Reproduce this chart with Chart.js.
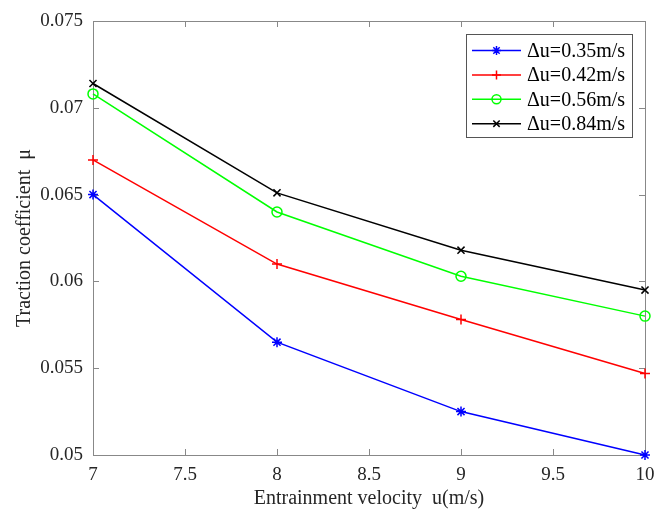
<!DOCTYPE html>
<html>
<head>
<meta charset="utf-8">
<script src="https://cdn.jsdelivr.net/npm/chart.js@4/dist/chart.umd.min.js"></script>
<style>
  html, body { margin: 0; padding: 0; background: #fff; }
  #wrap { width: 657px; height: 514px; }
</style>
</head>
<body>
<div id="wrap"><canvas id="myChart" width="657" height="514"></canvas></div>
<script>
// data
var velocity = [7, 8, 9, 10];
var du035 = [0.0650, 0.0565, 0.0525, 0.0500];
var du042 = [0.0670, 0.0610, 0.0578, 0.0547];
var du056 = [0.0708, 0.0640, 0.0603, 0.0580];
var du084 = [0.0714, 0.0651, 0.0618, 0.0595];
var seriesNames = ['\u0394u=0.35m/s', '\u0394u=0.42m/s', '\u0394u=0.56m/s', '\u0394u=0.84m/s'];
var xTicks = [7, 7.5, 8, 8.5, 9, 9.5, 10];
var yTicks = [0.05, 0.055, 0.06, 0.065, 0.07, 0.075];

var serif = "'Liberation Serif', 'Times New Roman', serif";
Chart.defaults.font.family = serif;
Chart.defaults.color = '#262626';

function pts(ys) {
  return ys.map(function (y, i) { return { x: velocity[i], y: y }; });
}

function makeSet(label, ys, color, style) {
  return {
    label: label,
    data: pts(ys),
    borderColor: color,
    backgroundColor: 'rgba(0,0,0,0)',
    pointBorderColor: color,
    pointBackgroundColor: 'rgba(0,0,0,0)',
    pointStyle: style,
    pointRadius: 5,
    pointBorderWidth: 1.5,
    borderWidth: 1.5,
    tension: 0,
    clip: false
  };
}

function fmt(v) { return String(+Number(v).toFixed(4)); }

// simple marker drawing for the legend
function marker(ctx, style, x, y, r, color) {
  ctx.save();
  ctx.strokeStyle = color;
  ctx.lineWidth = 1.5;
  ctx.beginPath();
  if (style === 'circle') {
    ctx.arc(x, y, r, 0, Math.PI * 2);
  } else {
    var angles = style === 'cross' ? [0, 90] : style === 'crossRot' ? [45, 135] : [0, 45, 90, 135];
    angles.forEach(function (a) {
      var rad = a * Math.PI / 180, dx = Math.cos(rad) * r, dy = Math.sin(rad) * r;
      ctx.moveTo(x - dx, y - dy);
      ctx.lineTo(x + dx, y + dy);
    });
  }
  ctx.stroke();
  ctx.restore();
}

// box around the plot with inward ticks on every side
var boxPlugin = {
  id: 'box',
  beforeDatasetsDraw: function (chart) {
    var ctx = chart.ctx, a = chart.chartArea;
    var xs = chart.scales.x, ys = chart.scales.y;
    var len = 6;
    ctx.save();
    ctx.strokeStyle = '#888';
    ctx.lineWidth = 1;
    ctx.strokeRect(Math.round(a.left) + 0.5, Math.round(a.top) + 0.5,
      Math.round(a.right - a.left), Math.round(a.bottom - a.top));
    ctx.beginPath();
    xTicks.forEach(function (t) {
      var px = Math.round(xs.getPixelForValue(t)) + 0.5;
      ctx.moveTo(px, a.bottom); ctx.lineTo(px, a.bottom - len);
      ctx.moveTo(px, a.top); ctx.lineTo(px, a.top + len);
    });
    yTicks.forEach(function (t) {
      var py = Math.round(ys.getPixelForValue(t)) + 0.5;
      ctx.moveTo(a.left, py); ctx.lineTo(a.left + len, py);
      ctx.moveTo(a.right, py); ctx.lineTo(a.right - len, py);
    });
    ctx.stroke();
    ctx.restore();
  }
};

// legend box in the upper right, matlab style
var legendPlugin = {
  id: 'boxLegend',
  afterDraw: function (chart) {
    var ctx = chart.ctx;
    var bx = 466, by = 34, bw = 166, bh = 103;
    var rowH = 24.4, firstY = 50.5;
    ctx.save();
    ctx.fillStyle = '#fff';
    ctx.fillRect(bx, by, bw, bh);
    ctx.strokeStyle = '#555';
    ctx.lineWidth = 1;
    ctx.strokeRect(bx + 0.5, by + 0.5, bw, bh);
    ctx.font = '20px ' + serif;
    ctx.textBaseline = 'middle';
    ctx.textAlign = 'left';
    chart.data.datasets.forEach(function (ds, i) {
      var y = firstY + i * rowH;
      ctx.strokeStyle = ds.borderColor;
      ctx.lineWidth = 1.5;
      ctx.beginPath();
      ctx.moveTo(472, y); ctx.lineTo(521, y);
      ctx.stroke();
      marker(ctx, ds.pointStyle, 496.5, y, 4.5, ds.borderColor);
      ctx.fillStyle = '#000';
      ctx.fillText(ds.label, 527, y + 1);
    });
    ctx.restore();
  }
};

var ctx = document.getElementById('myChart');
var myChart = new Chart(ctx, {
  type: 'line',
  data: {
    datasets: [
      makeSet(seriesNames[0], du035, '#0000ff', 'star'),
      makeSet(seriesNames[1], du042, '#ff0000', 'cross'),
      makeSet(seriesNames[2], du056, '#00ff00', 'circle'),
      makeSet(seriesNames[3], du084, '#000000', 'crossRot')
    ]
  },
  options: {
    responsive: false,
    animation: false,
    layout: { padding: { left: 0, top: 21, right: 12, bottom: 0 } },
    plugins: { legend: { display: false }, tooltip: { enabled: false } },
    scales: {
      x: {
        type: 'linear',
        min: 7, max: 10,
        afterBuildTicks: function (s) { s.ticks = xTicks.map(function (v) { return { value: v }; }); },
        afterFit: function (s) { s.height = 59; s.paddingLeft = 0; s.paddingRight = 0; },
        grid: { display: false, drawTicks: false },
        border: { display: false },
        ticks: {
          padding: 9,
          color: '#262626',
          font: { family: serif, size: 19 },
          maxRotation: 0,
          autoSkip: false,
          callback: fmt
        },
        title: {
          display: true,
          text: 'Entrainment velocity  u(m/s)',
          color: '#262626',
          font: { family: serif, size: 20 },
          padding: { top: 0, bottom: 3 }
        }
      },
      y: {
        type: 'linear',
        min: 0.05, max: 0.075,
        afterBuildTicks: function (s) { s.ticks = yTicks.map(function (v) { return { value: v }; }); },
        afterFit: function (s) { s.width = 93; s.paddingTop = 0; s.paddingBottom = 0; },
        grid: { display: false, drawTicks: false },
        border: { display: false },
        ticks: {
          padding: 10,
          color: '#262626',
          font: { family: serif, size: 19 },
          autoSkip: false,
          callback: fmt
        },
        title: {
          display: true,
          text: 'Traction coefficient  \u03bc',
          color: '#262626',
          font: { family: serif, size: 20 },
          padding: { top: 13, bottom: 0 }
        }
      }
    }
  },
  plugins: [boxPlugin, legendPlugin]
});
</script>
</body>
</html>
